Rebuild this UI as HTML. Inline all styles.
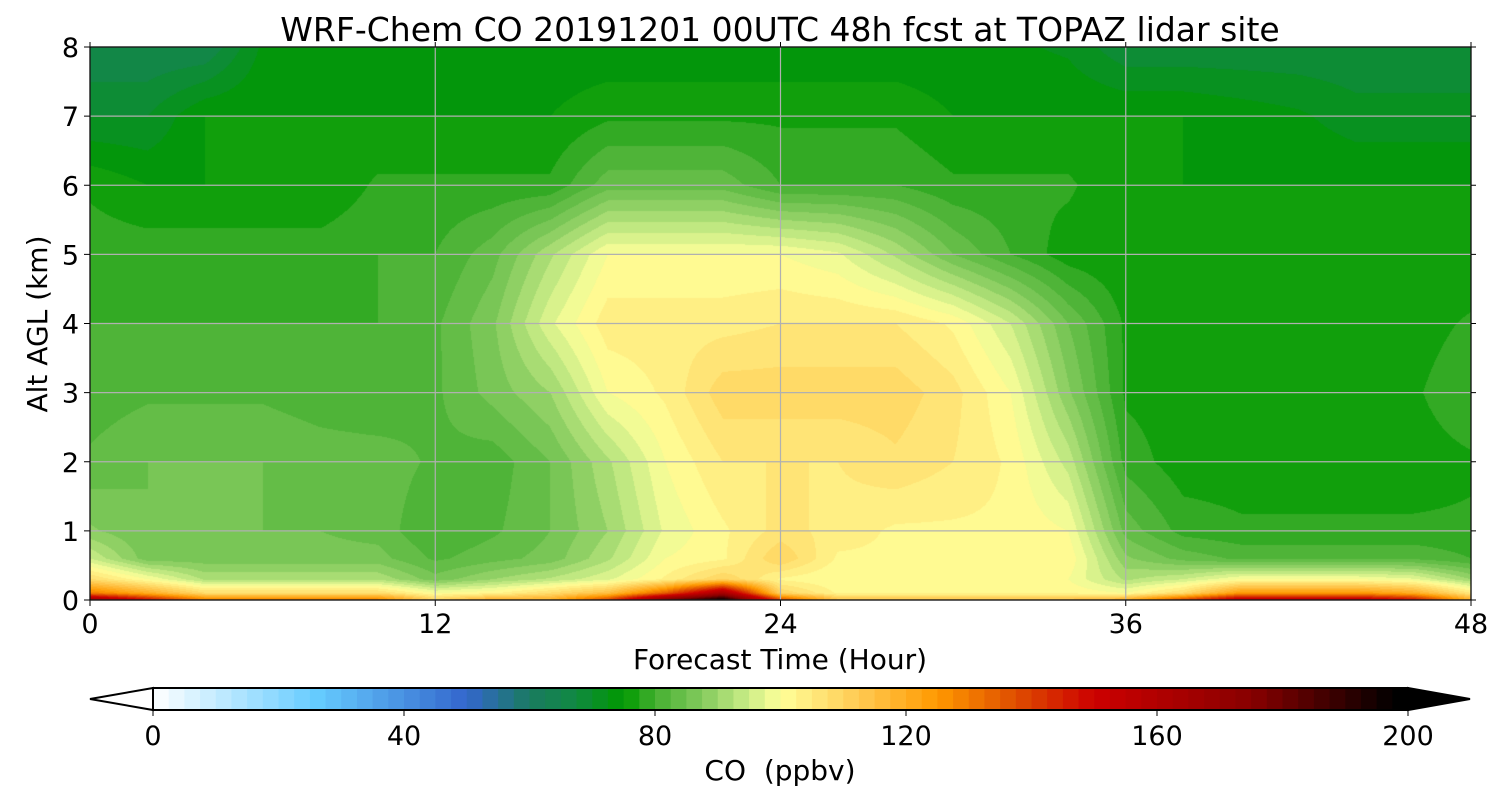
<!DOCTYPE html>
<html><head><meta charset="utf-8">
<style>
body{margin:0;background:#fff;width:1500px;height:800px;overflow:hidden;font-family:"Liberation Sans","DejaVu Sans",sans-serif;}
#wrap{position:relative;width:1500px;height:800px;}
canvas{position:absolute;left:90px;top:47px;}
svg{position:absolute;left:0;top:0;}
text{font-family:"DejaVu Sans","Liberation Sans",sans-serif;fill:#000;}
</style></head><body>
<div id="wrap">
<canvas id="field" width="1381" height="553"></canvas>
<svg id="svg" width="1500" height="800"></svg>
</div>
<script>
const hours = [0,2,4,6,8,10,12,14,16,18,20,22,24,26,28,30,32,34,36,38,40,42,44,46,48];
const altitudes = [0,0.1,0.3,0.6,1,2,3,4,5,6,7,8];
const co_0   = [170,150,130,130,130,130,110,120,120,140,180,200,140,115,115,115,115,115,120,140,160,160,160,150,120];
const co_01  = [130,120,108,108,108,108,100,102,108,115,135,165,110,102,102,102,102,102,100,108,125,125,125,120,105];
const co_03  = [108,100,92,92,92,92,86,90,93,97,103,110,102,100,100,100,100,100,92,95,100,100,100,98,90];
const co_06  = [95,86,86,86,86,86,82,84,86,92,100,102,110,102,102,102,102,102,88,84,82,82,82,82,80];
const co_1   = [88,85,85,85,85,84,80,82,85,90,98,102,106,104,102,102,102,100,84,79,78,78,78,78,78];
const co_2   = [83,85,85,85,84,84,82,81,85,92,100,105,105,105,107,105,102,94,79,76,76,76,76,76,77];
const co_3   = [81,82,82,82,81,80,82,86,90,100,103,109,109,109,109,106,100,88,77,76,76,76,76,77,80];
const co_4   = [80,80,80,80,80,80,82,87,97,104,104,104,105,105,105,102,95,85,77,75,75,75,75,76,78];
const co_5   = [79,79,79,79,79,80,80,84,92,100,100,100,100,98,92,85,80,76,75,75,75,75,75,75,75];
const co_6   = [77,75,75,75,75,78,78,78,78,84,84,84,80,80,80,78,78,78,75,75,75,75,75,75,75];
const co_7   = [70,70,75,75,75,75,75,75,75,77,77,77,77,77,77,75,75,75,75,75,74,73,71,71,71];
const co_8   = [65,65,65,73,73,73,73,73,73,73,73,73,73,73,73,73,73,72,68,68,68,68,68,68,68];
const coGrid = [co_0,co_01,co_03,co_06,co_1,co_2,co_3,co_4,co_5,co_6,co_7,co_8];
const xTicks = [0,12,24,36,48];
const yTicks = [0,1,2,3,4,5,6,7,8];
const cbTicks = [0,40,80,120,160,200];
const cmapStops = [[0,'#ffffff'],[26,'#66ccff'],[50,'#3366cc'],[60,'#1a7a60'],[67,'#118844'],[75,'#009900'],[80,'#44b030'],[88,'#88cc60'],[95,'#ccee88'],[100,'#ffff99'],[112,'#ffcc55'],[125,'#ff9900'],[137,'#e05000'],[150,'#cc0000'],[175,'#880000'],[198,'#000000']];

const PX0=90, PX1=1471, PY0=600, PY1=47;
const xs = h => PX0 + (h-0)/(48-0)*(PX1-PX0);
const ys = a => PY0 - a/8*(PY0-PY1);
const CB0=153, CB1=1408, CBY=688, CBH=22;
const cbx = v => CB0 + v/200*(CB1-CB0);

function hex(c){return [parseInt(c.slice(1,3),16),parseInt(c.slice(3,5),16),parseInt(c.slice(5,7),16)];}
function cmap(v){
  v = Math.floor(v/2.5)*2.5+1.25;
  if(v<=cmapStops[0][0]) return hex(cmapStops[0][1]);
  for(let i=1;i<cmapStops.length;i++){
    if(v<=cmapStops[i][0]){
      const a=cmapStops[i-1],b=cmapStops[i],t=(v-a[0])/(b[0]-a[0]);
      const ca=hex(a[1]),cb=hex(b[1]);
      return ca.map((x,k)=>Math.round(x+(cb[k]-x)*t));
    }
  }
  return [0,0,0];
}
function findIdx(arr,v){for(let i=0;i<arr.length-1;i++){if(v<=arr[i+1])return i;}return arr.length-2;}

const cv=document.getElementById('field'),ctx=cv.getContext('2d');
const W=cv.width,H=cv.height,img=ctx.createImageData(W,H);
for(let py=0;py<H;py++){
  const alt=(PY0-(PY1+py+0.5))/(PY0-PY1)*8;
  const j=findIdx(altitudes,alt);
  const ty=Math.max(0,Math.min(1,(alt-altitudes[j])/(altitudes[j+1]-altitudes[j])));
  for(let px=0;px<W;px++){
    const h=(px+0.5)/(PX1-PX0)*48;
    const i=findIdx(hours,h);
    const tx=Math.max(0,Math.min(1,(h-hours[i])/(hours[i+1]-hours[i])));
    const v=(coGrid[j][i]*(1-tx)+coGrid[j][i+1]*tx)*(1-ty)+(coGrid[j+1][i]*(1-tx)+coGrid[j+1][i+1]*tx)*ty;
    const c=cmap(v),o=(py*W+px)*4;
    img.data[o]=c[0];img.data[o+1]=c[1];img.data[o+2]=c[2];img.data[o+3]=255;
  }
}
ctx.putImageData(img,0,0);

const svg=document.getElementById('svg'),NS='http://www.w3.org/2000/svg';
function mk(tag,attrs,parent){const e=document.createElementNS(NS,tag);for(const k in attrs)e.setAttribute(k,attrs[k]);(parent||svg).appendChild(e);return e;}

for(const t of xTicks){
  const l=mk('line',{x1:xs(t),x2:xs(t),y1:PY1,y2:PY0,stroke:'#b0b0b0','stroke-width':1.2});
  
  
  const tk=mk('line',{x1:xs(t),x2:xs(t),y1:PY0,y2:PY0+6,stroke:'#000','stroke-width':1});
  
  
  const tp=mk('line',{x1:xs(t),x2:xs(t),y1:PY1,y2:PY1-5,stroke:'#000','stroke-width':1});
  
  
  const tx=mk('text',{x:xs(t),y:633,'text-anchor':'middle','font-size':27});
  tx.textContent=t;
  
  
}
for(const a of yTicks){
  const l=mk('line',{x1:PX0,x2:PX1,y1:ys(a),y2:ys(a),stroke:'#b0b0b0','stroke-width':1.2});
  
  
  const tk=mk('line',{x1:PX0-6,x2:PX0,y1:ys(a),y2:ys(a),stroke:'#000','stroke-width':1});
  
  
  const tr=mk('line',{x1:PX1,x2:PX1+5,y1:ys(a),y2:ys(a),stroke:'#000','stroke-width':1});
  
  
  const tx=mk('text',{x:79,y:ys(a)+10,'text-anchor':'end','font-size':27});
  tx.textContent=a;
  
  
}
const fr=mk('rect',{x:PX0,y:PY1,width:PX1-PX0,height:PY0-PY1,fill:'none',stroke:'#000','stroke-width':1.2});



const title=mk('text',{x:780,y:41,'text-anchor':'middle','font-size':33});
title.textContent='WRF-Chem CO 20191201 00UTC 48h fcst at TOPAZ lidar site';


const xl=mk('text',{x:780,y:669,'text-anchor':'middle','font-size':28});
xl.textContent='Forecast Time (Hour)';


const yl=mk('text',{x:47,y:324,'text-anchor':'middle','font-size':28,transform:'rotate(-90 47 324)'});
yl.textContent='Alt AGL (km)';



for(let v=0;v<200;v+=2.5){
  const c=cmap(v);
  const r=mk('rect',{x:cbx(v),y:CBY,width:cbx(v+2.5)-cbx(v)+0.6,height:CBH,fill:`rgb(${c[0]},${c[1]},${c[2]})`});
  
  
}
const lt=mk('polygon',{points:`${CB0},${CBY} 90,${CBY+CBH/2} ${CB0},${CBY+CBH}`,fill:'#fff',stroke:'#000','stroke-width':2});


const rt=mk('polygon',{points:`${CB1},${CBY} 1470,${CBY+CBH/2} ${CB1},${CBY+CBH}`,fill:'#000',stroke:'#000','stroke-width':2});


const cbf=mk('rect',{x:CB0,y:CBY,width:CB1-CB0,height:CBH,fill:'none',stroke:'#000','stroke-width':2});


for(const v of cbTicks){
  const tk=mk('line',{x1:cbx(v),x2:cbx(v),y1:CBY+CBH,y2:CBY+CBH+6,stroke:'#000','stroke-width':1});
  
  
  const tx=mk('text',{x:cbx(v),y:745,'text-anchor':'middle','font-size':27});
  tx.textContent=v;
  
  
}
const cl=mk('text',{x:780,y:780,'text-anchor':'middle','font-size':28});
cl.textContent='CO\u00a0\u00a0(ppbv)';


</script>
</body></html>
